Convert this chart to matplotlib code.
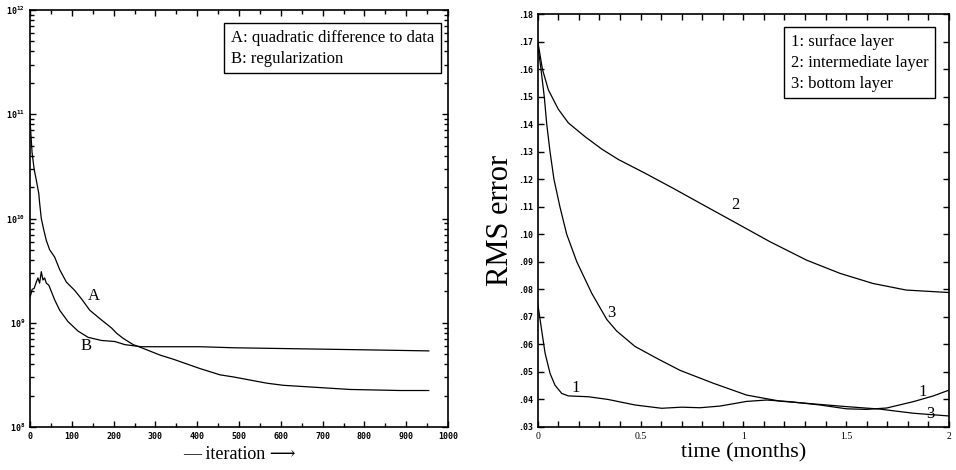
import numpy as np
import matplotlib
matplotlib.use('Agg')
from matplotlib import pyplot as plt
from matplotlib.lines import Line2D
from matplotlib.ticker import MultipleLocator, LogLocator, FuncFormatter, NullFormatter

# ---- left panel: cost function vs iteration (log10 of value) ----
iter_a = [0, 1, 5, 10, 15, 21, 23, 27, 33, 39, 47, 59, 71, 87, 107, 123, 143, 167, 195,
          207, 223, 247, 267, 311, 343, 407, 455, 487, 567, 606, 686, 766, 886, 954]
log_a = [10.99, 10.88, 10.63, 10.47, 10.37, 10.24, 10.15, 10.00, 9.89, 9.79, 9.70, 9.63,
         9.51, 9.39, 9.31, 9.23, 9.12, 9.04, 8.95, 8.90, 8.85, 8.79, 8.76, 8.69, 8.65,
         8.56, 8.50, 8.48, 8.42, 8.40, 8.38, 8.36, 8.35, 8.35]
iter_b = [0, 2, 5, 10, 15, 19, 23, 27, 31, 35, 39, 45, 51, 59, 71, 91, 115, 139, 171,
          203, 227, 266, 327, 407, 487, 646, 806, 954]
log_b = [9.25, 9.27, 9.32, 9.33, 9.39, 9.43, 9.38, 9.49, 9.41, 9.43, 9.38, 9.36, 9.30,
         9.22, 9.12, 9.01, 8.92, 8.86, 8.83, 8.82, 8.79, 8.77, 8.77, 8.77, 8.76, 8.75,
         8.74, 8.73]

# ---- right panel: RMS error vs time (months) ----
t2 = [0, 0.023, 0.052, 0.100, 0.149, 0.230, 0.311, 0.392, 0.522, 0.659, 0.821, 0.967,
      1.129, 1.307, 1.469, 1.630, 1.792, 2.0]
rms2 = [0.1704, 0.1600, 0.1525, 0.1455, 0.1405, 0.1355, 0.1310, 0.1272, 0.1222, 0.1167,
        0.1100, 0.1040, 0.0973, 0.0906, 0.0858, 0.0821, 0.0797, 0.0788]
t3 = [0, 0.016, 0.032, 0.044, 0.060, 0.079, 0.108, 0.141, 0.190, 0.263, 0.336, 0.384,
      0.473, 0.586, 0.692, 0.854, 1.016, 1.178, 1.340, 1.502, 1.664, 1.826, 2.0]
rms3 = [0.1690, 0.1600, 0.1500, 0.1400, 0.1300, 0.1200, 0.1100, 0.1000, 0.0900, 0.0785,
        0.0690, 0.0648, 0.0592, 0.0546, 0.0505, 0.0458, 0.0415, 0.0393, 0.0383, 0.0373,
        0.0364, 0.0349, 0.0339]
t1 = [0, 0.019, 0.036, 0.060, 0.084, 0.117, 0.149, 0.246, 0.343, 0.473, 0.603, 0.700,
      0.789, 0.886, 1.016, 1.113, 1.227, 1.372, 1.502, 1.599, 1.697, 1.826, 1.924, 2.0]
rms1 = [0.0749, 0.0652, 0.0567, 0.0494, 0.0451, 0.0421, 0.0412, 0.0409, 0.0399, 0.0379,
        0.0367, 0.0371, 0.0369, 0.0375, 0.0392, 0.0397, 0.0391, 0.0379, 0.0365, 0.0363,
        0.0368, 0.0391, 0.0412, 0.0433]

serif = ['Liberation Serif', 'DejaVu Serif', 'DejaVu Sans']
mono = 'DejaVu Sans Mono'
lw = 0.9

fig = plt.figure(figsize=(9.56, 4.70), dpi=100)
ax1 = fig.add_axes([30 / 956, 1 - 427 / 470, 418 / 956, 417 / 470])
ax2 = fig.add_axes([537.7 / 956, 1 - 426.7 / 470, 411.3 / 956, 412.4 / 470])

# left
ax1.plot(iter_a, 10 ** np.array(log_a), 'k-', lw=lw)
ax1.plot(iter_b, 10 ** np.array(log_b), 'k-', lw=lw)
ax1.set_yscale('log')
ax1.set_xlim(0, 1000)
ax1.set_ylim(1e8, 1e12)
ax1.xaxis.set_major_locator(MultipleLocator(100))
ax1.xaxis.set_minor_locator(MultipleLocator(50))
ax1.yaxis.set_major_locator(LogLocator(base=10, numticks=10))
ax1.yaxis.set_minor_locator(LogLocator(base=10, subs=np.arange(2, 10), numticks=20))
ax1.yaxis.set_minor_formatter(NullFormatter())
ax1.yaxis.set_major_formatter(FuncFormatter(lambda v, p: r'$\mathregular{10^{%d}}$' % round(np.log10(v))))
ax1.text(152, 1.82e9, 'A', family=serif, fontsize=12, ha='center', va='center')
ax1.text(134, 6.0e8, 'B', family=serif, fontsize=12, ha='center', va='center')
ax1.set_xlabel('\u2014 iteration \u27f6', family=serif, fontsize=13, labelpad=4)
ax1.legend(handles=[Line2D([], [], color='none'), Line2D([], [], color='none')],
           labels=['A: quadratic difference to data', 'B: regularization'],
           loc='upper right', bbox_to_anchor=(441 / 956, 1 - 23 / 470),
           bbox_transform=fig.transFigure, borderaxespad=0, handlelength=0,
           handletextpad=0, fancybox=False, edgecolor='black', framealpha=1,
           prop={'family': serif, 'size': 12}, labelspacing=0.3, borderpad=0.4)

# right
ax2.plot(t1, rms1, 'k-', lw=lw)
ax2.plot(t2, rms2, 'k-', lw=lw)
ax2.plot(t3, rms3, 'k-', lw=lw)
ax2.set_xlim(0, 2)
ax2.set_ylim(0.03, 0.18)
ax2.xaxis.set_major_locator(MultipleLocator(0.5))
ax2.xaxis.set_minor_locator(MultipleLocator(0.1))
ax2.yaxis.set_major_locator(MultipleLocator(0.01))
ax2.xaxis.set_major_formatter(FuncFormatter(lambda v, p: '%g' % v))
ax2.yaxis.set_major_formatter(FuncFormatter(lambda v, p: ('%.2f' % v)[1:]))
ax2.text(0.963, 0.1106, '2', family=serif, fontsize=12, ha='center', va='center')
ax2.text(0.36, 0.0715, '3', family=serif, fontsize=12, ha='center', va='center')
ax2.text(0.186, 0.0439, '1', family=serif, fontsize=12, ha='center', va='center')
ax2.text(1.874, 0.0427, '1', family=serif, fontsize=12, ha='center', va='center')
ax2.text(1.909, 0.0345, '3', family=serif, fontsize=12, ha='center', va='center')
ax2.set_xlabel('time (months)', family=serif, fontsize=16, labelpad=2)
ax2.set_ylabel('RMS error', family=serif, fontsize=22, labelpad=2)
ax2.legend(handles=[Line2D([], [], color='none')] * 3,
           labels=['1: surface layer', '2: intermediate layer', '3: bottom layer'],
           loc='upper right', bbox_to_anchor=(935 / 956, 1 - 27 / 470),
           bbox_transform=fig.transFigure, borderaxespad=0, handlelength=0,
           handletextpad=0, fancybox=False, edgecolor='black', framealpha=1,
           prop={'family': serif, 'size': 12}, labelspacing=0.3, borderpad=0.4)

for ax in (ax1, ax2):
    for s in ax.spines.values():
        s.set_linewidth(1.2)
    ax.tick_params(which='both', direction='in', top=True, right=True, width=1.0)
    ax.tick_params(which='major', length=4.5, labelsize=6)
    ax.tick_params(which='minor', length=3)
for lab in ax1.get_xticklabels() + ax1.get_yticklabels() + ax2.get_yticklabels():
    lab.set_family(mono)
    lab.set_fontweight('bold')
for lab in ax2.get_xticklabels():
    lab.set_family(serif)
    lab.set_fontsize(7)
ax2.tick_params(which='minor', length=4.5)

fig.savefig('out.png', dpi=100)
